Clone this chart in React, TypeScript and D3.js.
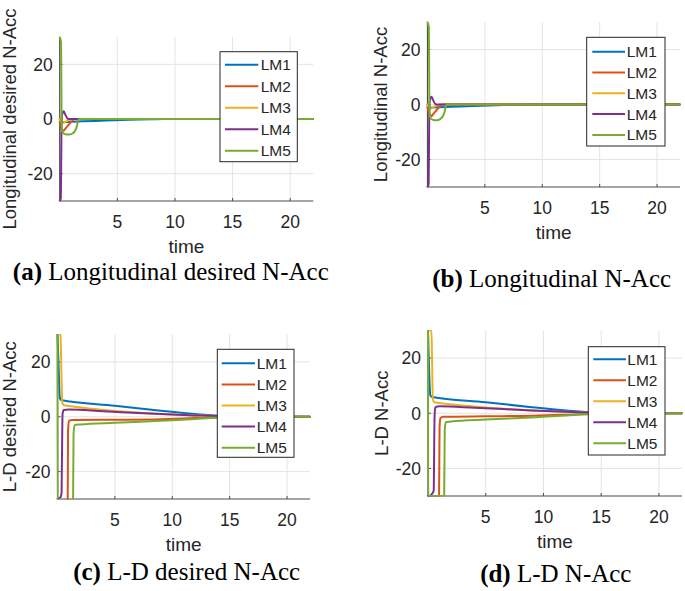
import React from "react";
import * as d3 from "d3";

type Pt = [number, number];

const seriesNames = ["LM1", "LM2", "LM3", "LM4", "LM5"];
const seriesColors = ["#0072BD", "#D95319", "#EDB120", "#7E2F8E", "#77AC30"];
const xTicks = [5, 10, 15, 20];
const yTicks = [-20, 0, 20];
const xDomain: Pt = [0, 22];
const yDomain: Pt = [-30, 30];

// (a) Longitudinal desired N-Acc
const lonDesLM1: Pt[] = [[0, -1.2], [0.5, -1.1], [1, -1.0], [2, -0.85], [4, -0.55], [6, -0.3], [8, -0.08], [9, 0], [22, 0]];
const lonDesLM2: Pt[] = [[0, 0], [0.1, -3], [0.35, -4.2], [0.5, -3.5], [0.8, -2], [1.1, -0.6], [1.3, 0], [22, 0]];
const lonDesLM3: Pt[] = [[0, 0], [0.2, -1.5], [0.5, -1], [0.9, -0.2], [1.2, 0], [22, 0]];
const lonDesLM4: Pt[] = [[0, -30], [0.1, -29], [0.15, -5], [0.2, 1.5], [0.35, 2.8], [0.5, 1.5], [0.7, 0.1], [0.9, 0], [22, 0]];
const lonDesLM5: Pt[] = [[0, 30], [0.12, 28], [0.17, -3], [0.25, -4.8], [0.5, -5.6], [0.8, -5.7], [1.1, -5.3], [1.35, -4.2], [1.5, -2.5], [1.6, -0.5], [1.7, 0], [22, 0]];

// (b) Longitudinal N-Acc
const lonLM1: Pt[] = [[0, -1.2], [0.5, -1.1], [1, -1.0], [2, -0.85], [4, -0.55], [6, -0.3], [8, -0.08], [9, 0], [22, 0]];
const lonLM2: Pt[] = [[0, 0], [0.1, -3], [0.35, -4.2], [0.5, -3.5], [0.8, -2], [1.1, -0.6], [1.3, 0], [22, 0]];
const lonLM3: Pt[] = [[0, 0], [0.2, -1.5], [0.5, -1], [0.9, -0.2], [1.2, 0], [22, 0]];
const lonLM4: Pt[] = [[0, -30], [0.1, -29], [0.15, -5], [0.2, 1.5], [0.35, 2.8], [0.5, 1.5], [0.7, 0.1], [0.9, 0], [22, 0]];
const lonLM5: Pt[] = [[0, 30], [0.12, 28], [0.17, -3], [0.25, -4.8], [0.5, -5.6], [0.8, -5.7], [1.1, -5.3], [1.35, -4.2], [1.5, -2.5], [1.6, -0.5], [1.7, 0], [22, 0]];

// (c) L-D desired N-Acc
const ldDesLM1: Pt[] = [[0, 30], [0.1, 18], [0.2, 7], [0.3, 6.1], [5, 4.0], [9, 2.2], [12, 1.0], [14.5, 0.2], [16, 0], [22, 0]];
const ldDesLM2: Pt[] = [[0, -45], [0.87, -45], [0.92, -5], [1.0, -1.5], [1.3, -1.2], [5, -1.1], [9, -0.9], [12, -0.5], [15, -0.1], [17, 0], [22, 0]];
const ldDesLM3: Pt[] = [[0, 31], [0.25, 30], [0.42, 5], [0.55, 4.2], [1, 3.9], [3, 2.9], [6, 1.8], [9, 1.0], [12, 0.5], [15, 0.1], [17, 0], [22, 0]];
const ldDesLM4: Pt[] = [[0, -30], [0.05, -29.8], [0.25, -29.4], [0.35, -28], [0.39, -15], [0.44, 1], [0.55, 2.5], [1, 2.6], [4, 2.0], [9, 1.0], [12, 0.5], [15, 0.1], [17, 0], [22, 0]];
const ldDesLM5: Pt[] = [[0, 33], [0.03, -45], [1.33, -45], [1.4, -6], [1.5, -3.0], [2, -2.8], [5, -2.2], [9, -1.5], [12, -0.8], [15, -0.2], [17, 0], [22, 0]];

// (d) L-D N-Acc
const ldLM1: Pt[] = [[0, 30], [0.1, 15], [0.2, 6.5], [0.35, 5.9], [5, 4.0], [9, 2.2], [12, 1.0], [14.5, 0.2], [16, 0], [22, 0]];
const ldLM2: Pt[] = [[0, -30], [0.96, -30], [1.0, -5], [1.08, -1.8], [1.3, -1.3], [5, -1.1], [9, -0.9], [12, -0.5], [15, -0.1], [17, 0], [22, 0]];
const ldLM3: Pt[] = [[0, 30], [0.3, 30], [0.35, 20], [0.42, 5], [0.55, 4.0], [1, 3.7], [3, 2.8], [6, 1.8], [9, 1.0], [12, 0.5], [15, 0.1], [17, 0], [22, 0]];
const ldLM4: Pt[] = [[0, -30], [0.1, -30], [0.3, -29.5], [0.5, -28], [0.54, -10], [0.58, 0], [0.65, 2.2], [1, 2.5], [4, 2.0], [9, 1.0], [12, 0.5], [15, 0.1], [17, 0], [22, 0]];
const ldLM5: Pt[] = [[0, 30], [0.02, -30], [1.4, -30], [1.45, -6], [1.55, -3.2], [2, -3.0], [5, -2.3], [9, -1.5], [12, -0.8], [15, -0.2], [17, 0], [22, 0]];

const panels = [
  {
    id: "a",
    series: [lonDesLM1, lonDesLM2, lonDesLM3, lonDesLM4, lonDesLM5],
    frame: { left: 59.7, right: 313.3, top: 37, bottom: 201 },
    legend: { x: 220, y: 51.7, w: 77.3, h: 110, first: 13, gap: 21.5, lineX0: 5, lineX1: 38.3, textX: 40.7 },
    ylabel: "Longitudinal desired N-Acc",
    ylabelX: 15.5,
    capLetter: "(a)",
    capText: " Longitudinal desired N-Acc",
    capX: 170.8,
    capY: 280,
  },
  {
    id: "b",
    series: [lonLM1, lonLM2, lonLM3, lonLM4, lonLM5],
    frame: { left: 427.5, right: 680, top: 22, bottom: 187 },
    legend: { x: 586.7, y: 37.3, w: 78.3, h: 108.7, first: 14.4, gap: 20.8, lineX0: 5.6, lineX1: 38.3, textX: 40 },
    ylabel: "Longitudinal N-Acc",
    ylabelX: 387,
    capLetter: "(b)",
    capText: " Longitudinal N-Acc",
    capX: 551.7,
    capY: 286.7,
  },
  {
    id: "c",
    series: [ldDesLM1, ldDesLM2, ldDesLM3, ldDesLM4, ldDesLM5],
    frame: { left: 57.5, right: 310, top: 334.5, bottom: 499 },
    legend: { x: 217.3, y: 349.3, w: 76.7, h: 108, first: 14, gap: 21.1, lineX0: 4.4, lineX1: 37.7, textX: 39.4 },
    ylabel: "L-D desired N-Acc",
    ylabelX: 16,
    capLetter: "(c)",
    capText: " L-D desired N-Acc",
    capX: 186.7,
    capY: 580,
  },
  {
    id: "d",
    series: [ldLM1, ldLM2, ldLM3, ldLM4, ldLM5],
    frame: { left: 428, right: 682, top: 330.5, bottom: 496 },
    legend: { x: 588.3, y: 346.7, w: 76.7, h: 108.3, first: 12.6, gap: 21, lineX0: 5, lineX1: 37.7, textX: 39 },
    ylabel: "L-D N-Acc",
    ylabelX: 388,
    capLetter: "(d)",
    capText: " L-D N-Acc",
    capX: 555.8,
    capY: 581.7,
  },
];

const SANS = "'Liberation Sans', Arial, Helvetica, sans-serif";
const SERIF = "'Liberation Serif', 'Times New Roman', serif";
const TXT = "#262626";
const AXIS = "#4d4d4d";
const GRID = "#e4e4e4";

function Panel({ p }: { p: (typeof panels)[number] }) {
  const f = p.frame;
  const x = d3.scaleLinear().domain(xDomain).range([f.left, f.right]);
  const y = d3.scaleLinear().domain(yDomain).range([f.bottom, f.top]);
  const line = d3
    .line<Pt>()
    .x((d) => x(d[0]))
    .y((d) => y(d[1]))
    .curve(d3.curveMonotoneX);
  const clipId = `clip-${p.id}`;
  const lg = p.legend;
  return (
    <g>
      <defs>
        <clipPath id={clipId}>
          <rect x={f.left - 1.5} y={f.top - 0.5} width={f.right - f.left + 2} height={f.bottom - f.top + 1} />
        </clipPath>
      </defs>
      {xTicks.map((t) => (
        <line key={`gx${t}`} x1={x(t)} x2={x(t)} y1={f.top} y2={f.bottom} stroke={GRID} strokeWidth={1} />
      ))}
      {yTicks.map((t) => (
        <line key={`gy${t}`} x1={f.left} x2={f.right} y1={y(t)} y2={y(t)} stroke={GRID} strokeWidth={1} />
      ))}
      <line x1={f.left} x2={f.right} y1={f.bottom} y2={f.bottom} stroke={AXIS} strokeWidth={1.2} />
      <line x1={f.left} x2={f.left} y1={f.top} y2={f.bottom} stroke={AXIS} strokeWidth={1.2} />
      {xTicks.map((t) => (
        <line key={`tx${t}`} x1={x(t)} x2={x(t)} y1={f.bottom} y2={f.bottom - 3} stroke={AXIS} strokeWidth={1} />
      ))}
      {yTicks.map((t) => (
        <line key={`ty${t}`} x1={f.left} x2={f.left + 3} y1={y(t)} y2={y(t)} stroke={AXIS} strokeWidth={1} />
      ))}
      {xTicks.map((t) => (
        <text key={`lx${t}`} x={x(t)} y={f.bottom + 27} textAnchor="middle" fontFamily={SANS} fontSize={17.5} fill={TXT}>
          {t}
        </text>
      ))}
      {yTicks.map((t) => (
        <text key={`ly${t}`} x={f.left - 7} y={y(t)} dy="0.36em" textAnchor="end" fontFamily={SANS} fontSize={17.5} fill={TXT}>
          {t}
        </text>
      ))}
      <text x={(f.left + f.right) / 2} y={f.bottom + 52} textAnchor="middle" fontFamily={SANS} fontSize={19} fill={TXT}>
        time
      </text>
      <text
        transform={`translate(${p.ylabelX},${(f.top + f.bottom) / 2}) rotate(-90)`}
        textAnchor="middle"
        fontFamily={SANS}
        fontSize={18.5}
        fill={TXT}
      >
        {p.ylabel}
      </text>
      <g clipPath={`url(#${clipId})`}>
        {p.series.map((s, i) => (
          <path
            key={`s${i}`}
            d={line(s) || ""}
            fill="none"
            stroke={seriesColors[i]}
            strokeWidth={2}
            strokeLinejoin="round"
            strokeLinecap="round"
          />
        ))}
      </g>
      <rect x={lg.x} y={lg.y} width={lg.w} height={lg.h} fill="#fff" stroke="#262626" strokeWidth={1} />
      {seriesNames.map((n, i) => {
        const yy = lg.y + lg.first + i * lg.gap;
        return (
          <g key={n}>
            <line x1={lg.x + lg.lineX0} x2={lg.x + lg.lineX1} y1={yy} y2={yy} stroke={seriesColors[i]} strokeWidth={2} />
            <text x={lg.x + lg.textX} y={yy} dy="0.36em" fontFamily={SANS} fontSize={15.5} fill={TXT}>
              {n}
            </text>
          </g>
        );
      })}
      <text x={p.capX} y={p.capY} textAnchor="middle" fontFamily={SERIF} fontSize={25} fill="#000">
        <tspan fontWeight="bold">{p.capLetter}</tspan>
        <tspan>{p.capText}</tspan>
      </text>
    </g>
  );
}

export default function App() {
  return (
    <svg
      width={685}
      height={591}
      viewBox="0 0 685 591"
      style={{ position: "absolute", left: 0, top: 0, background: "#fff" }}
    >
      <rect x={0} y={0} width={685} height={591} fill="#fff" />
      {panels.map((p) => (
        <Panel key={p.id} p={p} />
      ))}
    </svg>
  );
}
